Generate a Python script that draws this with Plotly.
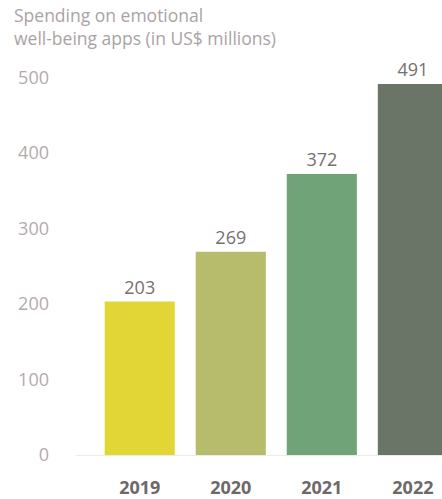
import plotly.graph_objects as go

years = ["2019", "2020", "2021", "2022"]
spending = [203, 269, 372, 491]
bar_colors = ["#e2d637", "#b7bc6d", "#70a378", "#6a7467"]
y_ticks = [0, 100, 200, 300, 400, 500]

fig = go.Figure()
fig.add_trace(go.Bar(
    x=years, y=spending,
    marker=dict(color=bar_colors, line=dict(width=0)),
    text=[str(v) for v in spending],
    textposition="outside",
    textfont=dict(family="Open Sans", size=18, color="#767070"),
    cliponaxis=False,
))

fig.update_layout(
    width=442, height=499,
    margin=dict(l=76, r=0, t=47, b=44),
    paper_bgcolor="white", plot_bgcolor="white",
    bargap=0.23,
    showlegend=False,
    font=dict(family="Open Sans"),
    annotations=[dict(
        text="Spending on emotional<br>well-being apps (in US$ millions)",
        xref="paper", yref="paper", x=-76/366, y=1 + 47/408,
        xanchor="left", yanchor="top", align="left", showarrow=False,
        xshift=12, yshift=-1,
        font=dict(family="Open Sans", size=17.5, color="#aaa3a3"),
    )],
)
fig.update_xaxes(
    type="category", range=[-0.70, 3.32],
    showline=True, linecolor="#eeeaea", linewidth=1,
    showgrid=False, ticks="", ticklabelstandoff=16,
    tickfont=dict(family="Open Sans", size=18, color="#6e6868", weight="bold"),
)
fig.update_yaxes(
    range=[0, 540], tickvals=y_ticks,
    showgrid=False, zeroline=False, showline=False, ticks="",
    ticklabelstandoff=26,
    tickfont=dict(family="Open Sans", size=18, color="#b3abab"),
)

fig.write_html("out.html")
